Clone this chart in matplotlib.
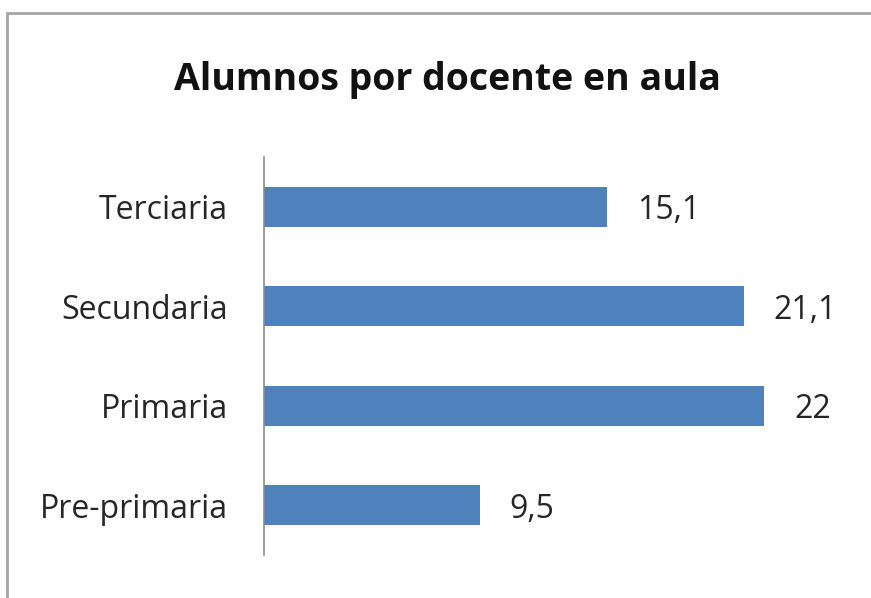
import matplotlib
matplotlib.use('Agg')
import matplotlib.pyplot as plt
from matplotlib.patches import Rectangle

# Datos
niveles = ['Pre-primaria', 'Primaria', 'Secundaria', 'Terciaria']
alumnos_por_docente = [9.5, 22, 21.1, 15.1]
etiquetas = ['9,5', '22', '21,1', '15,1']

plt.rcParams['font.family'] = ['Open Sans', 'DejaVu Sans']

fig = plt.figure(figsize=(8.71, 5.98), dpi=100)
fig.patch.set_facecolor('white')

# marco del gráfico
fig.patches.append(Rectangle((7 / 871, -0.05), 1.2, 1 - 13 / 598 + 0.05,
                             transform=fig.transFigure, fill=False,
                             edgecolor='#a6a6a6', lw=2))

ax = fig.add_axes([264 / 871, 1 - 555 / 598, 596 / 871, 398 / 598])
ax.barh(range(len(niveles)), alumnos_por_docente, height=0.4, color='#4F81BD')
ax.set_xlim(0, 26.2)
ax.set_ylim(-0.5, 3.5)
ax.set_yticks(range(len(niveles)))
ax.set_yticklabels(niveles, fontsize=23, color='#262626')
ax.tick_params(axis='y', length=0, pad=26)
ax.set_xticks([])
for s in ['top', 'right', 'bottom']:
    ax.spines[s].set_visible(False)
ax.spines['left'].set_color('#8c8c8c')
ax.spines['left'].set_linewidth(1.2)

for i, (v, t) in enumerate(zip(alumnos_por_docente, etiquetas)):
    ax.text(v + 1.3, i - 0.04, t, va='center', ha='left', fontsize=23,
            color='#262626')

fig.text(447 / 871, 1 - 80 / 598, 'Alumnos por docente en aula', ha='center',
         va='center', fontsize=27, fontweight='bold', color='#111111')

fig.savefig('out.png', dpi=100)
